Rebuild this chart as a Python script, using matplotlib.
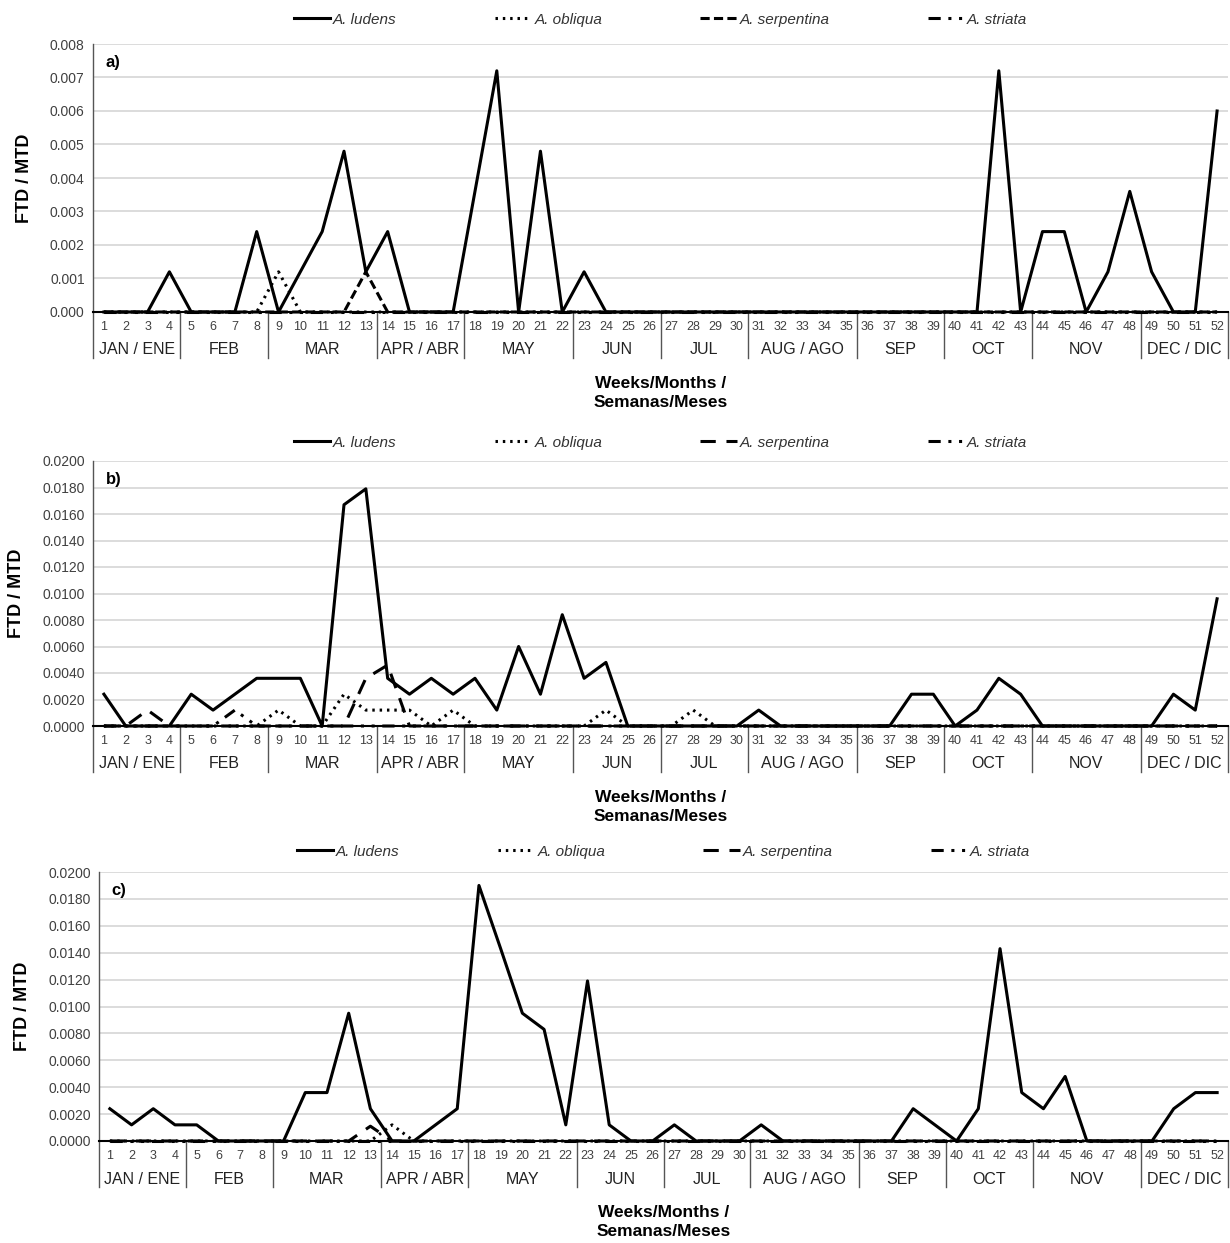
import matplotlib
matplotlib.use("Agg")
import matplotlib.pyplot as plt
from matplotlib import font_manager
from matplotlib.lines import Line2D
from matplotlib.transforms import blended_transform_factory

# pick a condensed face if there is one, otherwise shrink the text a little
names = set(f.name for f in font_manager.fontManager.ttflist)
has_narrow = "Liberation Sans Narrow" in names
narrow = "Liberation Sans Narrow" if has_narrow else "Liberation Sans"
plt.rcParams["font.family"] = ["Liberation Sans", "DejaVu Sans"]

weeks = list(range(1, 53))
months = ["JAN / ENE", "FEB", "MAR", "APR / ABR", "MAY", "JUN", "JUL",
          "AUG / AGO", "SEP", "OCT", "NOV", "DEC / DIC"]
weeks_per_month = [4, 4, 5, 4, 5, 4, 4, 5, 4, 4, 5, 4]
species = ["A. ludens", "A. obliqua", "A. serpentina", "A. striata"]

# panel a)
a_ludens = [0, 0, 0, 0.0012, 0, 0, 0, 0.0024, 0, 0.0012, 0.0024, 0.0048, 0.0012,
            0.0024, 0, 0, 0, 0.0036, 0.0072, 0, 0.0048, 0, 0.0012, 0, 0, 0,
            0, 0, 0, 0, 0, 0, 0, 0, 0, 0, 0, 0, 0,
            0, 0, 0.0072, 0, 0.0024, 0.0024, 0, 0.0012, 0.0036, 0.0012, 0, 0, 0.0060]
a_obliqua = [0, 0, 0, 0, 0, 0, 0, 0, 0.0012, 0, 0, 0, 0,
             0, 0, 0, 0, 0, 0, 0, 0, 0, 0, 0, 0, 0,
             0, 0, 0, 0, 0, 0, 0, 0, 0, 0, 0, 0, 0,
             0, 0, 0, 0, 0, 0, 0, 0, 0, 0, 0, 0, 0]
a_serpentina = [0, 0, 0, 0, 0, 0, 0, 0, 0, 0, 0, 0, 0.0012,
                0, 0, 0, 0, 0, 0, 0, 0, 0, 0, 0, 0, 0,
                0, 0, 0, 0, 0, 0, 0, 0, 0, 0, 0, 0, 0,
                0, 0, 0, 0, 0, 0, 0, 0, 0, 0, 0, 0, 0]
a_striata = [0, 0, 0, 0, 0, 0, 0, 0, 0, 0, 0, 0, 0,
             0, 0, 0, 0, 0, 0, 0, 0, 0, 0, 0, 0, 0,
             0, 0, 0, 0, 0, 0, 0, 0, 0, 0, 0, 0, 0,
             0, 0, 0, 0, 0, 0, 0, 0, 0, 0, 0, 0, 0]

# panel b)
b_ludens = [0.0024, 0, 0, 0, 0.0024, 0.0012, 0.0024, 0.0036, 0.0036, 0.0036, 0, 0.0167, 0.0179,
            0.0036, 0.0024, 0.0036, 0.0024, 0.0036, 0.0012, 0.0060, 0.0024, 0.0084, 0.0036, 0.0048, 0, 0,
            0, 0, 0, 0, 0.0012, 0, 0, 0, 0, 0, 0, 0.0024, 0.0024,
            0, 0.0012, 0.0036, 0.0024, 0, 0, 0, 0, 0, 0, 0.0024, 0.0012, 0.0096]
b_obliqua = [0, 0, 0, 0, 0, 0, 0, 0, 0.0012, 0, 0, 0.0024, 0.0012,
             0.0012, 0.0012, 0, 0.0012, 0, 0, 0, 0, 0, 0, 0.0012, 0, 0,
             0, 0.0012, 0, 0, 0, 0, 0, 0, 0, 0, 0, 0, 0,
             0, 0, 0, 0, 0, 0, 0, 0, 0, 0, 0, 0, 0]
b_serpentina = [0, 0, 0.0012, 0, 0, 0, 0, 0, 0, 0, 0, 0, 0.0036,
                0.0046, 0, 0, 0, 0, 0, 0, 0, 0, 0, 0, 0, 0,
                0, 0, 0, 0, 0, 0, 0, 0, 0, 0, 0, 0, 0,
                0, 0, 0, 0, 0, 0, 0, 0, 0, 0, 0, 0, 0]
b_striata = [0, 0, 0, 0, 0, 0, 0.0012, 0, 0, 0, 0, 0, 0,
             0, 0, 0, 0, 0, 0, 0, 0, 0, 0, 0, 0, 0,
             0, 0, 0, 0, 0, 0, 0, 0, 0, 0, 0, 0, 0,
             0, 0, 0, 0, 0, 0, 0, 0, 0, 0, 0, 0, 0]

# panel c)
c_ludens = [0.0024, 0.0012, 0.0024, 0.0012, 0.0012, 0, 0, 0, 0, 0.0036, 0.0036, 0.0095, 0.0024,
            0, 0, 0.0012, 0.0024, 0.0190, 0.0143, 0.0095, 0.0083, 0.0012, 0.0119, 0.0012, 0, 0,
            0.0012, 0, 0, 0, 0.0012, 0, 0, 0, 0, 0, 0, 0.0024, 0.0012,
            0, 0.0024, 0.0143, 0.0036, 0.0024, 0.0048, 0, 0, 0, 0, 0.0024, 0.0036, 0.0036]
c_obliqua = [0, 0, 0, 0, 0, 0, 0, 0, 0, 0, 0, 0, 0,
             0.0012, 0, 0, 0, 0, 0, 0, 0, 0, 0, 0, 0, 0,
             0, 0, 0, 0, 0, 0, 0, 0, 0, 0, 0, 0, 0,
             0, 0, 0, 0, 0, 0, 0, 0, 0, 0, 0, 0, 0]
c_serpentina = [0, 0, 0, 0, 0, 0, 0, 0, 0, 0, 0, 0, 0.0011,
                0, 0, 0, 0, 0, 0, 0, 0, 0, 0, 0, 0, 0,
                0, 0, 0, 0, 0, 0, 0, 0, 0, 0, 0, 0, 0,
                0, 0, 0, 0, 0, 0, 0, 0, 0, 0, 0, 0, 0]
c_striata = [0, 0, 0, 0, 0, 0, 0, 0, 0, 0, 0, 0, 0,
             0, 0, 0, 0, 0, 0, 0, 0, 0, 0, 0, 0, 0,
             0, 0, 0, 0, 0, 0, 0, 0, 0, 0, 0, 0, 0,
             0, 0, 0, 0, 0, 0, 0, 0, 0, 0, 0, 0, 0]

W, H = 1230, 1243
fig = plt.figure(figsize=(W / 100, H / 100), dpi=100)

obl_dash = (0, (0.8, 1.6))
str_dash = (0, (4, 2.5, 1, 2.5, 1, 2.5))
month_size = 13.5 if has_narrow else 11.5
label_size = 14 if has_narrow else 12.5


def draw_panel(box, tag, series, ymax, ystep, fmt, serp_dash, leg_up):
    left, top, right, bottom = box
    ax = fig.add_axes([left / W, 1 - bottom / H, (right - left) / W, (bottom - top) / H])
    h_px = bottom - top

    # the other species first, A. ludens on top
    ax.plot(weeks, series[1], color="black", lw=2.2, linestyle=obl_dash, clip_on=False, zorder=3)
    ax.plot(weeks, series[2], color="black", lw=2.2, linestyle=serp_dash, clip_on=False, zorder=3)
    ax.plot(weeks, series[3], color="black", lw=2.2, linestyle=str_dash, clip_on=False, zorder=3)
    ax.plot(weeks, series[0], color="black", lw=2.2, linestyle="-", clip_on=False, zorder=4)

    ax.set_xlim(0.5, 52.5)
    ax.set_ylim(0, ymax)
    nt = int(round(ymax / ystep))
    ax.set_yticks([k * ystep for k in range(nt + 1)])
    ax.set_yticklabels([fmt.format(k * ystep) for k in range(nt + 1)])
    ax.tick_params(axis="y", length=0, pad=6, labelsize=10, labelcolor="#404040")
    ax.set_xticks([])
    ax.yaxis.grid(True, color="#d9d9d9", lw=1.3)
    ax.set_axisbelow(True)
    for s in ["top", "right"]:
        ax.spines[s].set_visible(False)
    ax.spines["left"].set_color("#555555")
    ax.spines["left"].set_linewidth(1)
    ax.spines["bottom"].set_color("black")
    ax.spines["bottom"].set_linewidth(1.5)

    # week numbers, month names and separators below the axis
    trans = blended_transform_factory(ax.transData, ax.transAxes)
    for w in weeks:
        ax.annotate(str(w), xy=(w, 0), xycoords=trans, xytext=(0, -15),
                    textcoords="offset pixels", ha="center", va="center",
                    fontsize=9, color="#404040", family=narrow)
    start = 0.5
    ax.plot([start, start], [0, -46 / h_px], transform=trans, color="#555555", lw=1, clip_on=False)
    for name, n in zip(months, weeks_per_month):
        end = start + n
        ax.annotate(name, xy=((start + end) / 2, 0), xycoords=trans, xytext=(0, -38),
                    textcoords="offset pixels", ha="center", va="center",
                    fontsize=month_size, color="#222222", family=narrow)
        ax.plot([end, end], [0, -46 / h_px], transform=trans, color="#555555", lw=1, clip_on=False)
        start = end

    ax.text(0.011, 0.93, tag, transform=ax.transAxes, fontsize=12, fontweight="bold",
            ha="left", va="center")
    ax.set_ylabel("FTD / MTD", fontsize=13, fontweight="bold", family=narrow, labelpad=12)
    ax.annotate("Weeks/Months /\nSemanas/Meses", xy=(0.5, 0), xycoords="axes fraction",
                xytext=(0, -81), textcoords="offset pixels", ha="center", va="center",
                fontsize=label_size, fontweight="bold", family=narrow, linespacing=1.3)

    handles = [Line2D([], [], color="black", lw=2.2, linestyle="-"),
               Line2D([], [], color="black", lw=2.2, linestyle=obl_dash),
               Line2D([], [], color="black", lw=2.2, linestyle=serp_dash),
               Line2D([], [], color="black", lw=2.2, linestyle=str_dash)]
    leg = ax.legend(handles, species, loc="lower center",
                    bbox_to_anchor=(0.5, 1.0 + leg_up / h_px), ncol=4,
                    frameon=False, handlelength=2.4, handletextpad=0.2, columnspacing=6.4,
                    borderaxespad=0.2, prop={"family": narrow, "style": "italic", "size": 11})
    for t in leg.get_texts():
        t.set_color("#333333")
    return ax


draw_panel((93, 44, 1228, 312), "a)", [a_ludens, a_obliqua, a_serpentina, a_striata],
           0.008, 0.001, "{:.3f}", (0, (3, 1.4)), 8)
draw_panel((93, 461, 1228, 726), "b)", [b_ludens, b_obliqua, b_serpentina, b_striata],
           0.02, 0.002, "{:.4f}", (0, (5, 3.5)), 2)
draw_panel((99, 872, 1228, 1141), "c)", [c_ludens, c_obliqua, c_serpentina, c_striata],
           0.02, 0.002, "{:.4f}", (0, (5, 3.5)), 4)

fig.savefig("out.png", dpi=100, facecolor="white")
